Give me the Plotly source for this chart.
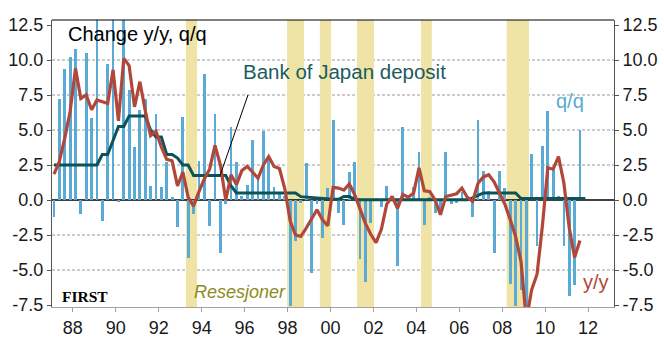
import pandas as pd
import plotly.graph_objects as go

# GDP growth, quarterly, 1987Q1-2011Q3
qq = [
    -1.2, 7.2, 9.35, 10.2, 10.8, -1.0, 10.5, 5.85, 13.5, -1.5,
    9.75, 14.0, -0.1, 13.2, 7.85, 3.8, 6.4, 7.25, 1.0, 6.15,
    0.9, 2.7, 0.2, -1.9, 5.95, -4.15, -1.0, 2.8, 9.0, -1.85,
    6.15, -3.75, -0.25, 5.2, 2.7, 0.3, 1.05, 4.3, 1.5, 4.95,
    3.05, 0.95, 0.6, 0.3, -7.6, -2.95, -0.2, 2.65, -5.2, -0.3,
    -2.7, 0.85, 5.7, -0.95, -1.75, 2.0, 2.7, -4.2, -5.85, -1.65,
    0.1, -0.5, 1.0, 0.2, -4.7, 5.2, 0.1, 0.9, 3.4, -1.75,
    0.2, -0.9, -1.05, 3.4, -0.3, -0.2, 0.6, 0.3, -1.2, 5.7,
    2.05, 0.65, -3.75, 2.05, 0.85, -6.0, -7.6, -6.4, -7.6, 3.3,
    -3.3, 3.85, 6.35, 2.15, 0.3, -3.3, -6.85, -6.1, 5.0,
]
yy = [
    1.85, 2.75, 4.4, 6.3, 9.4, 7.25, 7.5, 6.45, 7.15, 7.05,
    6.9, 9.3, 5.65, 10.1, 9.6, 6.65, 8.45, 6.4, 4.6, 4.9,
    3.8, 2.9, 2.8, 1.0, 2.0, 0.2, -0.45, 0.6, 1.5, 2.2,
    3.9, 2.5, 0.0, 1.8, 1.1, 2.1, 2.4, 2.0, 1.55, 2.5,
    3.1, 2.4, 2.25, 0.8, -1.5, -2.5, -2.6, -2.0, -1.3, -0.7,
    -1.4, -1.85, 0.9, 0.85, 0.7, 1.15, 0.4, -0.55, -1.65, -2.45,
    -3.05, -2.1, -0.3, 0.25, -0.6, 0.4, 0.2, 0.5, 2.3, 0.65,
    0.6, 0.0, -1.05, 0.25, 0.35, 0.45, 0.85, 0.2, -0.1, 1.2,
    1.65, 1.8, 1.3, 0.5, -0.3, -1.4, -2.6, -4.4, -8.6, -6.4,
    -5.3, -1.8, 2.3, 2.2, 3.1, 1.2, -2.0, -4.1, -2.9,
]
# Bank of Japan policy rate, quarterly, 1987Q1-2011Q4
boj = [
    2.5, 2.5, 2.5, 2.5, 2.5, 2.5, 2.5, 2.5, 2.5, 3.25,
    3.25, 4.25, 5.25, 5.25, 6.0, 6.0, 6.0, 6.0, 5.0, 4.5,
    4.5, 3.25, 3.25, 3.0, 2.5, 2.5, 1.75, 1.75, 1.75, 1.75,
    1.75, 1.75, 1.75, 1.0, 0.5, 0.5, 0.5, 0.5, 0.5, 0.5,
    0.5, 0.5, 0.5, 0.5, 0.5, 0.5, 0.24, 0.2, 0.17, 0.17,
    0.1, 0.05, 0.05, 0.05, 0.25, 0.25, 0.05, 0.02, 0.02, 0.02,
    0.02, 0.02, 0.02, 0.02, 0.02, 0.02, 0.02, 0.02, 0.02, 0.02,
    0.02, 0.02, 0.02, 0.02, 0.02, 0.02, 0.02, 0.02, 0.15, 0.3,
    0.5, 0.5, 0.5, 0.5, 0.5, 0.5, 0.5, 0.1, 0.1, 0.1,
    0.1, 0.1, 0.1, 0.1, 0.1, 0.1, 0.1, 0.1, 0.1, 0.1,
]

# Recession periods (start, end)
recessions = [
    ("1993-04-08", "1993-10-15"),
    ("1997-12-25", "1998-10-08"),
    ("1999-07-05", "2000-01-12"),
    ("2001-03-28", "2002-01-12"),
    ("2004-03-20", "2004-09-20"),
    ("2008-03-17", "2009-04-01"),
]

tick_years = list(range(1988, 2013, 2))
tick_labels = [f"{y % 100:02d}" for y in tick_years]
y_ticks = [-7.5, -5.0, -2.5, 0.0, 2.5, 5.0, 7.5, 10.0, 12.5]
y_labels = [f"{v:.1f}" for v in y_ticks]
grid_levels = [-5.0, -2.5, 2.5, 5.0, 7.5, 10.0]


def mid_quarter(start, end):
    periods = pd.period_range(start, end, freq="Q")
    return [p.start_time + (p.end_time - p.start_time) / 2 for p in periods]


x_growth = mid_quarter("1987Q1", "2011Q3")
x_boj = mid_quarter("1987Q1", "2011Q4")

BLUE = "#5AAAD6"
RED = "#B0473A"
TEAL = "#0D5257"
BAND = "#EFE3A6"
FONT = "Arial, Liberation Sans, sans-serif"

fig = go.Figure()
fig.add_trace(go.Bar(
    x=x_growth, y=qq, width=48 * 86400000,
    marker=dict(color=BLUE, line=dict(width=0)),
    showlegend=False, hoverinfo="skip",
))
fig.add_trace(go.Scatter(
    x=x_boj, y=boj, mode="lines",
    line=dict(color=TEAL, width=3), showlegend=False,
))
fig.add_trace(go.Scatter(
    x=x_growth, y=yy, mode="lines",
    line=dict(color=RED, width=3.2), showlegend=False,
))
# carrier for the right-hand axis
fig.add_trace(go.Scatter(
    x=[x_growth[0]], y=[0], yaxis="y2", mode="markers",
    marker=dict(opacity=0), showlegend=False, hoverinfo="skip",
))

shapes = []
for g in grid_levels:
    shapes.append(dict(type="line", xref="paper", x0=0, x1=1, yref="y",
                       y0=g, y1=g, layer="below",
                       line=dict(color="#9A9A9A", width=1, dash="3px,2px")))
for a, b in recessions:
    shapes.append(dict(type="rect", xref="x", x0=a, x1=b, yref="paper",
                       y0=0, y1=1, layer="below", fillcolor=BAND,
                       line=dict(width=0)))
shapes.append(dict(type="line", xref="paper", x0=0, x1=1, yref="y", y0=0,
                   y1=0, layer="below", line=dict(color="black", width=1.5)))
shapes.append(dict(type="line", xref="paper", x0=0, x1=1, yref="paper",
                   y0=1, y1=1, line=dict(color="black", width=1)))
# pointer from the policy-rate label to its line
shapes.append(dict(type="line", xref="x", yref="y",
                   x0="1996-02-28", y0=7.5, x1="1994-11-10", y1=1.75,
                   line=dict(color="black", width=1)))

annotations = [
    dict(text="Change y/y, q/q", x=0.025, y=0.951, color="black", size=20),
    dict(text="Bank of Japan deposit", x=0.337, y=0.821, color="#1A5C61", size=20.5),
    dict(text="q/q", x=0.893, y=0.718, color=BLUE, size=20),
    dict(text="y/y", x=0.941, y=0.087, color=RED, size=20),
]
ann = []
for a in annotations:
    ann.append(dict(text=a["text"], xref="paper", yref="paper", x=a["x"],
                    y=a["y"], xanchor="left", yanchor="middle", showarrow=False,
                    font=dict(family=FONT, size=a["size"], color=a["color"])))
ann.append(dict(text="<i>Resesjoner</i>", xref="paper", yref="paper",
                x=0.249, y=0.052, xanchor="left", yanchor="middle",
                showarrow=False,
                font=dict(family=FONT, size=18, color="#8E8A1C")))
ann.append(dict(text="<b>FIRST</b>", xref="paper", yref="paper",
                x=0.014, y=0.036, xanchor="left", yanchor="middle",
                showarrow=False,
                font=dict(family="Liberation Serif, Times New Roman, serif",
                          size=15.5, color="black")))

yrange = [-7.643, 12.857]
fig.update_layout(
    width=664, height=338,
    margin=dict(l=52, r=50, t=20, b=31, autoexpand=False),
    paper_bgcolor="white", plot_bgcolor="white",
    font=dict(family=FONT, size=18, color="#1A1A1A"),
    bargap=0,
    xaxis=dict(
        type="date", range=["1987-01-12", "2013-03-17"],
        tickvals=[f"{y}-01-01" for y in tick_years], ticktext=tick_labels,
        showgrid=False, zeroline=False, automargin=False,
        showline=True, linecolor="#A0A0A0", linewidth=1,
        ticks="outside", ticklen=4, tickcolor="#A0A0A0",
    ),
    yaxis=dict(
        range=yrange, tickvals=y_ticks, ticktext=y_labels,
        showgrid=False, zeroline=False, automargin=False,
        showline=True, linecolor="#555555", linewidth=1,
        ticks="outside", ticklen=4, tickcolor="#555555",
    ),
    yaxis2=dict(
        range=yrange, tickvals=y_ticks, ticktext=y_labels,
        overlaying="y", side="right", automargin=False,
        showgrid=False, zeroline=False,
        showline=True, linecolor="#555555", linewidth=1,
        ticks="outside", ticklen=4, tickcolor="#555555",
    ),
    shapes=shapes,
    annotations=ann,
)

fig.write_html("out.html")
